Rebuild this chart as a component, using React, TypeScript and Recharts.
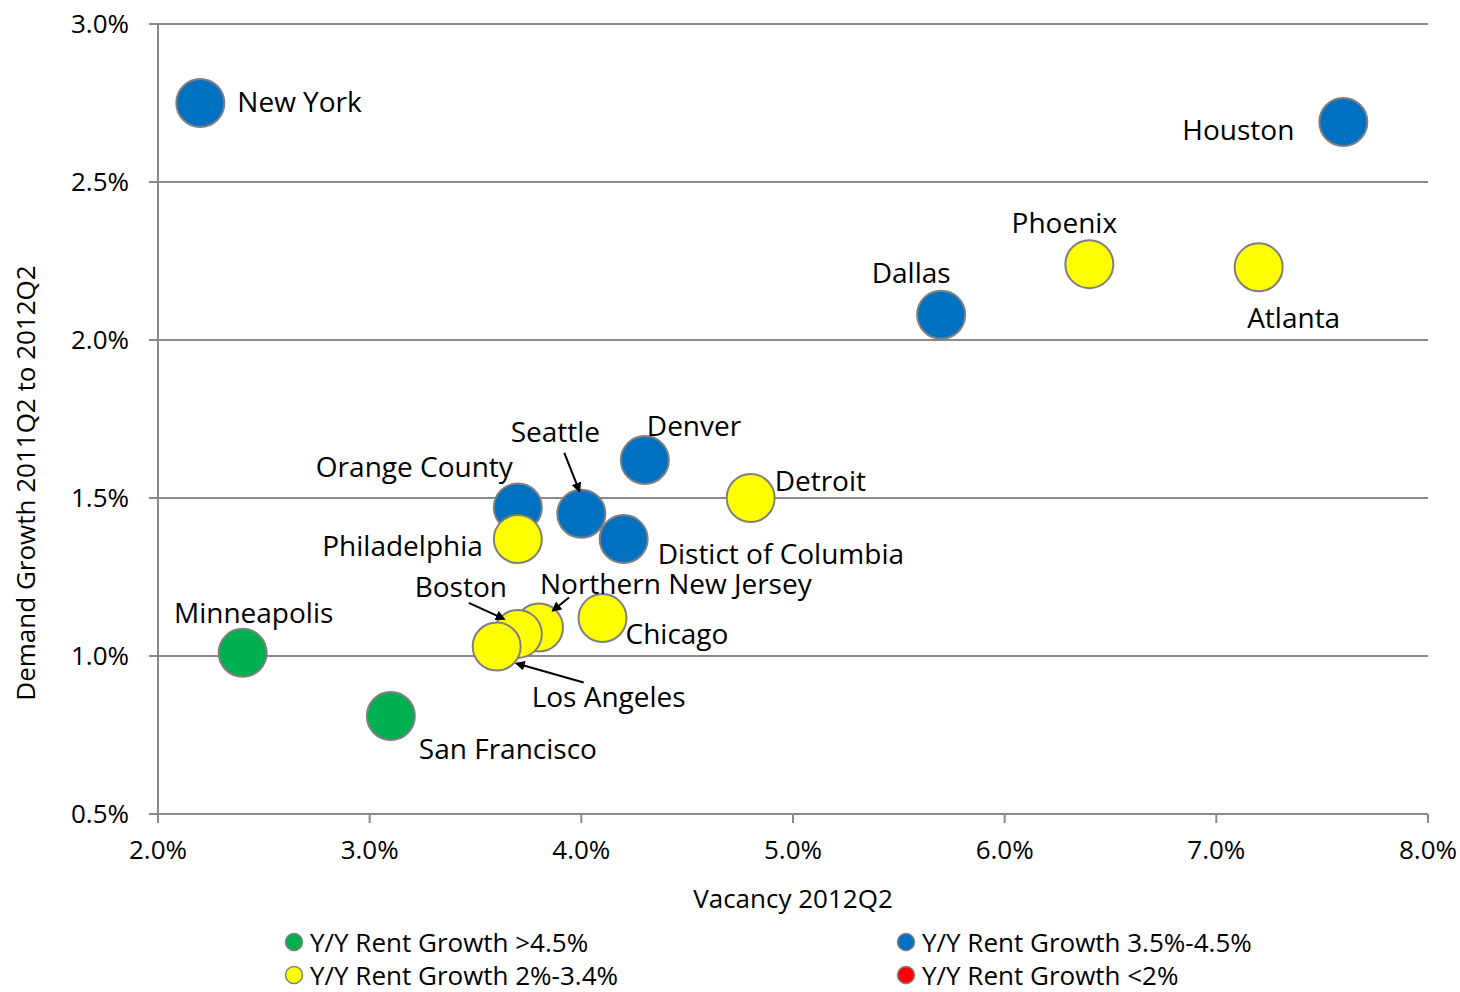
import React from "react"
import {
  ScatterChart,
  Scatter,
  XAxis,
  YAxis,
  CartesianGrid,
  Legend,
} from "recharts"

// values
const cities = [
  "New York", "Houston", "Phoenix", "Atlanta", "Dallas", "Denver", "Detroit",
  "Orange County", "Seattle", "Distict of Columbia", "Philadelphia",
  "Northern New Jersey", "Chicago", "Boston", "Los Angeles", "Minneapolis",
  "San Francisco",
]
const vacancy = [2.2, 7.6, 6.4, 7.2, 5.7, 4.3, 4.8, 3.7, 4.0, 4.2, 3.7, 3.8, 4.1, 3.7, 3.6, 2.4, 3.1]
const demandGrowth = [2.75, 2.69, 2.24, 2.23, 2.08, 1.62, 1.5, 1.47, 1.45, 1.37, 1.37, 1.09, 1.12, 1.07, 1.03, 1.01, 0.81]
const rentGroup = [
  "blue", "blue", "yellow", "yellow", "blue", "blue", "yellow", "blue", "blue",
  "blue", "yellow", "yellow", "yellow", "yellow", "yellow", "green", "green",
]

const xTicks = [2, 3, 4, 5, 6, 7, 8]
const yTicks = [0.5, 1, 1.5, 2, 2.5, 3]

const groups = [
  { key: "green", name: "Y/Y Rent Growth >4.5%", color: "#00B050" },
  { key: "blue", name: "Y/Y Rent Growth 3.5%-4.5%", color: "#0070C0" },
  { key: "yellow", name: "Y/Y Rent Growth 2%-3.4%", color: "#FFFF00" },
  { key: "red", name: "Y/Y Rent Growth <2%", color: "#FF0000" },
]

// label placement relative to each bubble (pixels)
const labelPos: Record<string, { dx: number; dy: number; anchor: string; arrow?: number[] }> = {
  "New York": { dx: 37, dy: -2, anchor: "start" },
  Houston: { dx: -49, dy: 7, anchor: "end" },
  Phoenix: { dx: -25, dy: -42, anchor: "middle" },
  Atlanta: { dx: 35, dy: 50, anchor: "middle" },
  Dallas: { dx: -30, dy: -43, anchor: "middle" },
  Denver: { dx: 2, dy: -35, anchor: "start" },
  Detroit: { dx: 24, dy: -18, anchor: "start" },
  "Orange County": { dx: -5, dy: -41, anchor: "end" },
  Seattle: { dx: -26, dy: -83, anchor: "middle", arrow: [-17, -61, -2, -23] },
  "Distict of Columbia": { dx: 34, dy: 14, anchor: "start" },
  Philadelphia: { dx: -35, dy: 6, anchor: "end" },
  "Northern New Jersey": { dx: 1, dy: -45, anchor: "start", arrow: [30, -30, 14, -17] },
  Chicago: { dx: 23, dy: 15, anchor: "start" },
  Boston: { dx: -57, dy: -48, anchor: "middle", arrow: [-49, -31, -14, -15] },
  "Los Angeles": { dx: 35, dy: 49, anchor: "start", arrow: [87, 36, 20, 17] },
  Minneapolis: { dx: 11, dy: -41, anchor: "middle" },
  "San Francisco": { dx: 28, dy: 32, anchor: "start" },
}

const points = cities.map((name, i) => ({
  name,
  x: vacancy[i],
  y: demandGrowth[i],
  group: rentGroup[i],
}))

const FONT = "'Open Sans', sans-serif"
const AXIS = "#898989"

const Bubble = (color: string) => (props: any) => (
  <circle cx={props.cx} cy={props.cy} r={24} fill={color} stroke="#7f7f7f" strokeWidth={2} />
)

const CityLabel = (props: any) => {
  const { cx, cy, payload } = props
  const pos = labelPos[payload.name]
  if (!pos) return <g />
  const a = pos.arrow
  return (
    <g>
      {a && (
        <line
          x1={cx + a[0]}
          y1={cy + a[1]}
          x2={cx + a[2]}
          y2={cy + a[3]}
          stroke="#000"
          strokeWidth={2}
          markerEnd="url(#arrowHead)"
        />
      )}
      <text
        x={cx + pos.dx}
        y={cy + pos.dy}
        textAnchor={pos.anchor as any}
        dominantBaseline="central"
        fontFamily={FONT}
        fontSize={28}
        fill="#000"
      >
        {payload.name}
      </text>
    </g>
  )
}

const legendSlots = [
  { left: 284, top: 15 },
  { left: 896, top: 15 },
  { left: 284, top: 48 },
  { left: 896, top: 48 },
]

const LegendContent = () => (
  <div style={{ position: "relative", width: 1460, height: 70, fontFamily: FONT, fontSize: 26 }}>
    {groups.map((g, i) => (
      <div
        key={g.key}
        style={{
          position: "absolute",
          left: legendSlots[i].left,
          top: legendSlots[i].top,
          display: "flex",
          alignItems: "center",
          whiteSpace: "nowrap",
          lineHeight: "26px",
          color: "#000",
        }}
      >
        <svg width={20} height={20} style={{ marginRight: 6 }}>
          <circle cx={10} cy={10} r={8.5} fill={g.color} stroke="#7f7f7f" strokeWidth={1.5} />
        </svg>
        {g.name}
      </div>
    ))}
  </div>
)

const YTitle = (props: any) => {
  const { viewBox } = props
  const x = viewBox.x + 25
  const y = 483
  return (
    <text
      x={x}
      y={y}
      transform={`rotate(-90 ${x} ${y})`}
      textAnchor="middle"
      dominantBaseline="central"
      fontFamily={FONT}
      fontSize={26}
      fill="#000"
    >
      Demand Growth 2011Q2 to 2012Q2
    </text>
  )
}

export default function App() {
  return (
    <div style={{ position: "absolute", left: 0, top: 0, background: "#fff" }}>
      <ScatterChart width={1460} height={992} margin={{ top: 24, right: 32, bottom: 8, left: 0 }}>
        <defs>
          <marker id="arrowHead" markerWidth="10" markerHeight="10" refX="8" refY="5" orient="auto" markerUnits="userSpaceOnUse" viewBox="0 0 10 10">
            <path d="M0,0 L10,5 L0,10 z" fill="#000" />
          </marker>
        </defs>
        <CartesianGrid horizontal vertical={false} stroke={AXIS} strokeWidth={2} />
        <XAxis
          type="number"
          dataKey="x"
          domain={[2, 8]}
          ticks={xTicks}
          tickFormatter={(v) => `${v.toFixed(1)}%`}
          height={100}
          stroke={AXIS}
          strokeWidth={2}
          tickSize={9}
          tickMargin={18}
          tick={{ fill: "#000", fontSize: 26, fontFamily: FONT }}
          label={{ value: "Vacancy 2012Q2", position: "insideBottom", offset: 6, fill: "#000", fontSize: 26, fontFamily: FONT }}
        />
        <YAxis
          type="number"
          dataKey="y"
          domain={[0.5, 3]}
          ticks={yTicks}
          tickFormatter={(v) => `${v.toFixed(1)}%`}
          width={158}
          stroke={AXIS}
          strokeWidth={2}
          tickSize={9}
          tickMargin={20}
          tick={{ fill: "#000", fontSize: 26, fontFamily: FONT }}
          label={<YTitle />}
        />
        {groups.map((g) => (
          <Scatter
            key={g.key}
            name={g.name}
            data={points.filter((p) => p.group === g.key)}
            shape={Bubble(g.color)}
            isAnimationActive={false}
          />
        ))}
        <Scatter data={points} shape={CityLabel} legendType="none" isAnimationActive={false} />
        <Legend verticalAlign="bottom" content={LegendContent} wrapperStyle={{ left: 0, width: 1460 }} />
      </ScatterChart>
    </div>
  )
}
